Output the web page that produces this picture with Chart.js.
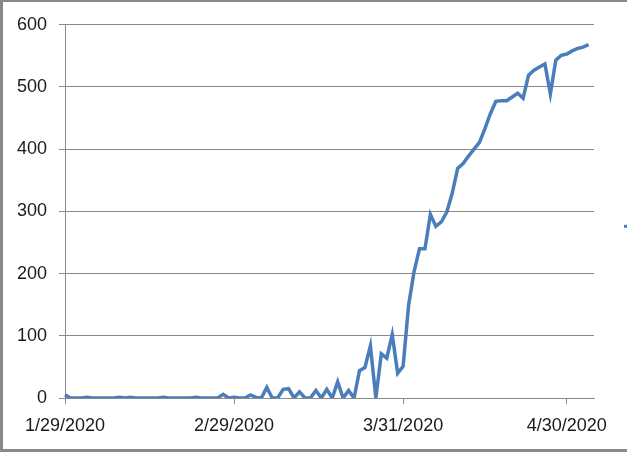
<!DOCTYPE html>
<html>
<head>
<meta charset="utf-8">
<script src="https://cdn.jsdelivr.net/npm/chart.js@4/dist/chart.umd.min.js"></script>
<style>
  html, body { margin: 0; padding: 0; background: #fff; }
  .frame {
    width: 627px; height: 452px; box-sizing: border-box;
    border-top: 2px solid #898989; border-left: 3px solid #898989;
    border-bottom: 3px solid #898989; border-right: none;
    overflow: hidden;
  }
  canvas { display: block; }
</style>
</head>
<body>
<div class="frame"><canvas id="chart" width="624" height="447"></canvas></div>
<script>
  // categories: one per day, 1/29/2020 .. 5/5/2020
  const dates = [
    "1/29/2020","1/30/2020","1/31/2020",
    "2/1/2020","2/2/2020","2/3/2020","2/4/2020","2/5/2020","2/6/2020","2/7/2020","2/8/2020","2/9/2020","2/10/2020",
    "2/11/2020","2/12/2020","2/13/2020","2/14/2020","2/15/2020","2/16/2020","2/17/2020","2/18/2020","2/19/2020","2/20/2020",
    "2/21/2020","2/22/2020","2/23/2020","2/24/2020","2/25/2020","2/26/2020","2/27/2020","2/28/2020","2/29/2020",
    "3/1/2020","3/2/2020","3/3/2020","3/4/2020","3/5/2020","3/6/2020","3/7/2020","3/8/2020","3/9/2020","3/10/2020",
    "3/11/2020","3/12/2020","3/13/2020","3/14/2020","3/15/2020","3/16/2020","3/17/2020","3/18/2020","3/19/2020","3/20/2020",
    "3/21/2020","3/22/2020","3/23/2020","3/24/2020","3/25/2020","3/26/2020","3/27/2020","3/28/2020","3/29/2020","3/30/2020","3/31/2020",
    "4/1/2020","4/2/2020","4/3/2020","4/4/2020","4/5/2020","4/6/2020","4/7/2020","4/8/2020","4/9/2020","4/10/2020",
    "4/11/2020","4/12/2020","4/13/2020","4/14/2020","4/15/2020","4/16/2020","4/17/2020","4/18/2020","4/19/2020","4/20/2020",
    "4/21/2020","4/22/2020","4/23/2020","4/24/2020","4/25/2020","4/26/2020","4/27/2020","4/28/2020","4/29/2020","4/30/2020",
    "5/1/2020","5/2/2020","5/3/2020","5/4/2020","5/5/2020"
  ];

  // daily values
  const values = [
    5, 0, 0, 0, 1, 0, 0, 0, 0, 0,
    1, 0, 1, 0, 0, 0, 0, 0, 1, 0,
    0, 0, 0, 0, 1, 0, 0, 0, 0, 6,
    0, 1, 0, 0, 5, 1, 0, 17, 0, 0,
    14, 15, 0, 10, 0, 0, 12, 0, 14, 0,
    26, 0, 12, 0, 44, 49, 84, 0, 71, 64,
    102, 40, 51, 149, 203, 240, 240, 295, 276, 283,
    299, 329, 369, 377, 389, 400, 411, 433, 457, 477,
    478, 478, 484, 490, 482, 519, 527, 532, 537, 489,
    543, 551, 553, 558, 562, 564, 568
  ];

  const xTickLabels = ["1/29/2020", "2/29/2020", "3/31/2020", "4/30/2020"];
  const yTicks = [0, 100, 200, 300, 400, 500, 600];

  const lineColor = "#4a7ebb";
  const gridColor = "#898989";
  const font = { family: "'Liberation Sans', Arial, sans-serif", size: 18 };

  // the cut-off legend sample at the right edge
  const legendStub = {
    id: "legendStub",
    afterDraw(chart) {
      const c = chart.ctx, a = chart.chartArea;
      const y = (yTicks.length ? chart.scales.y.getPixelForValue(276) : 0);
      c.save();
      c.strokeStyle = lineColor;
      c.lineWidth = 3;
      c.beginPath();
      c.moveTo(a.right + 30, y);
      c.lineTo(a.right + 44, y);
      c.stroke();
      c.restore();
    }
  };

  new Chart(document.getElementById("chart"), {
    type: "line",
    data: {
      labels: dates,
      datasets: [{
        data: values,
        borderColor: lineColor,
        borderWidth: 3.5,
        pointRadius: 0,
        tension: 0,
        fill: false
      }]
    },
    options: {
      responsive: false,
      animation: false,
      layout: { padding: { top: 22, right: 33, left: 0, bottom: 0 } },
      plugins: { legend: { display: false }, tooltip: { enabled: false } },
      scales: {
        x: {
          offset: false,
          afterFit(scale) { scale.height = 51; },
          border: { display: true, color: gridColor, width: 1 },
          grid: {
            drawOnChartArea: false,
            tickLength: 6,
            tickColor: ctx => xTickLabels.includes(dates[ctx.index]) ? gridColor : "rgba(0,0,0,0)"
          },
          ticks: {
            autoSkip: false,
            maxRotation: 0,
            minRotation: 0,
            padding: 11,
            color: "#1a1a1a",
            font: font,
            callback(val) {
              const l = this.getLabelForValue(val);
              return xTickLabels.includes(l) ? l : "";
            }
          }
        },
        y: {
          min: 0,
          max: 600,
          afterFit(scale) { scale.width = 62; },
          afterBuildTicks(scale) { scale.ticks = yTicks.map(v => ({ value: v })); },
          border: { display: true, color: gridColor, width: 1 },
          grid: { color: gridColor, lineWidth: 1, tickLength: 6, tickColor: gridColor },
          ticks: { padding: 12, color: "#1a1a1a", font: font }
        }
      }
    },
    plugins: [legendStub]
  });
</script>
</body>
</html>
